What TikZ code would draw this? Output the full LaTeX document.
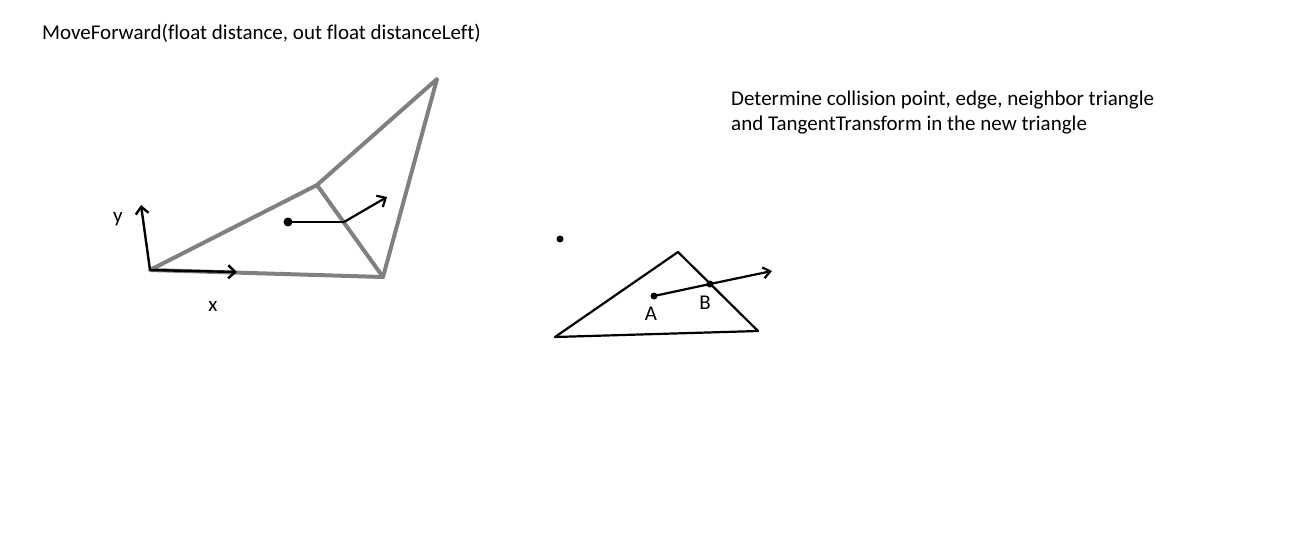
\documentclass[tikz,border=0pt]{standalone}
\usepackage{fontspec}
\setmainfont{Carlito}[Ligatures={NoCommon}]
\usetikzlibrary{positioning, calc, arrows.meta}

\begin{document}
\begin{tikzpicture}[x=1pt, y=-1pt,
	mesh/.style={draw=gray, line width=4pt, line cap=round, line join=round},
	axis/.style={-{Straight Barb[length=7pt, width=13pt]}, line width=2.4pt},
	stroke/.style={draw=black, line width=2.2pt, line join=round},
	dot/.style={circle, fill=black, inner sep=0pt, minimum size=7pt},
	txt/.style={font=\fontsize{21}{25}\selectfont, inner sep=0pt, anchor=base}]

	\fill[white] (0,0) rectangle (1306,539);
	\useasboundingbox (0,0) rectangle (1306,539);

	% left mesh
	\coordinate (O) at (150,270);
	\coordinate (M) at (317,185);
	\coordinate (T) at (437,79);
	\coordinate (R) at (383,277);
	\draw[mesh] (O) -- (M) -- (T) -- (R) -- cycle;
	\draw[mesh] (M) -- (R);

	% tangent frame
	\coordinate (ytip) at (141,205);
	\coordinate (xtip) at (237,272);
	\draw[axis] (O) -- (ytip);
	\draw[axis] (O) -- (xtip);
	\node[txt] (ylabel) at (118,222) {y};
	\node[txt] (xlabel) at (213,311) {x};

	% move across the edge
	\node[dot, minimum size=9pt] (start) at (288,222) {};
	\coordinate (hit) at (344,222);
	\coordinate (dir) at (387,197);
	\draw[stroke] (start.center) -- (hit);
	\draw[stroke, -{Straight Barb[length=7pt, width=13pt]}] (hit) -- (dir);

	% right triangle
	\node[dot, minimum size=7pt] (p) at (560,239) {};
	\coordinate (t1) at (678,252);
	\coordinate (t2) at (555,337);
	\coordinate (t3) at (758,331);
	\draw[stroke] (t1) -- (t3) -- (t2) -- cycle;
	\node[dot] (A) at (654,296) {};
	\node[dot] (B) at (710,284) {};
	\coordinate (tip) at (772,271);
	\draw[stroke] (A.center) -- (B.center);
	\draw[stroke, -{Straight Barb[length=7pt, width=11pt]}] (B.center) -- (tip);
	\node[txt] (Alabel) at (651,320) {A};
	\node[txt] (Blabel) at (705,309) {B};

	% texts
	\node[txt, anchor=base west] (title) at (42,39) {MoveForward(float distance, out float distanceLeft)};
	\node[txt, anchor=base west] (note1) at (731,105) {Determine collision point, edge, neighbor triangle};
	\node[txt, anchor=base west] (note2) at (731,130) {and TangentTransform in the new triangle};

\end{tikzpicture}
\end{document}
